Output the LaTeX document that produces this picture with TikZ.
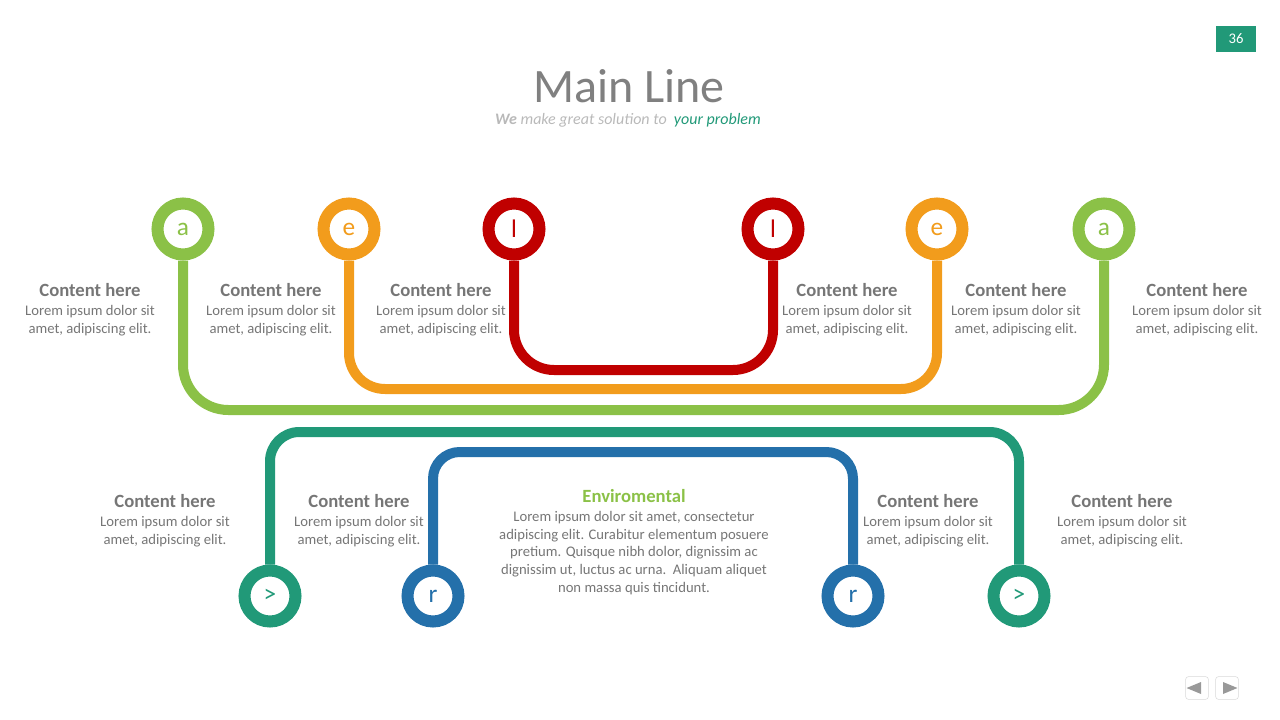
\documentclass[tikz,border=0pt]{standalone}
\usepackage{fontspec}
\setmainfont{Carlito}
\usetikzlibrary{positioning,backgrounds,shapes.geometric}
\definecolor{verde}{RGB}{139,193,71}
\definecolor{naranja}{RGB}{242,156,28}
\definecolor{rojo}{RGB}{192,0,0}
\definecolor{verdemar}{RGB}{33,153,120}
\definecolor{azul}{RGB}{36,112,170}
\definecolor{gristexto}{RGB}{118,118,118}
\definecolor{gristitulo}{RGB}{128,128,128}
\definecolor{grisclaro}{RGB}{185,185,185}
\tikzset{
  anillo/.style={
    circle,
    draw=#1,
    fill=white,
    line width=9pt,
    minimum size=38.25pt,
    inner sep=0pt,
    text=#1,
    font=\fontsize{19}{21}\selectfont
  },
  linea/.style={
    line width=7.5pt,
    draw=#1
  },
  encabezado/.style={
    inner sep=0pt,
    text=gristexto,
    font=\fontsize{14}{16}\selectfont\bfseries
  },
  cuerpo/.style={
    inner sep=0pt,
    align=center,
    text=gristexto,
    font=\fontsize{11}{13.5}\selectfont
  },
  boton/.style={
    draw=black!15,
    rounded corners=2pt,
    minimum size=17pt,
    inner sep=0pt
  }
}

\begin{document}
\begin{tikzpicture}[x=0.75pt,y=-0.75pt]
\useasboundingbox (0,0) rectangle (1280,720);
% titulo
\node[inner sep=0pt, text=gristitulo, font=\fontsize{36}{40}\selectfont] (titulo) at (629,86) {Main Line};
\node[inner sep=0pt, text=grisclaro, font=\fontsize{12}{14}\selectfont\itshape] (sub) at (628,120)
  {{\bfseries We} make great solution to \ \textcolor{verdemar}{your problem}};
\node[fill=verdemar, text=white, minimum width=30pt, minimum height=19.5pt,
  font=\fontsize{11}{13}\selectfont] (num) at (1236,39) {36};
% anillos de arriba
\node[anillo=verde] (a1) at (183,229) {a};
\node[anillo=naranja] (e1) at (349,229) {e};
\node[anillo=rojo] (l1) at (514,229) {l};
\node[anillo=rojo] (l2) at (773,229) {l};
\node[anillo=naranja] (e2) at (937,229) {e};
\node[anillo=verde] (a2) at (1104,229) {a};
% anillos de abajo
\node[anillo=verdemar] (m1) at (270,596) {>};
\node[anillo=azul] (r1) at (433,596) {r};
\node[anillo=azul] (r2) at (853,596) {r};
\node[anillo=verdemar] (m2) at (1019,596) {>};
\coordinate (nrojo) at (0,370);
\coordinate (nnaranja) at (0,389);
\coordinate (nverde) at (0,410);
\coordinate (nverdemar) at (0,432);
\coordinate (nazul) at (0,452);
\begin{scope}[on background layer]
\draw[linea=verde, rounded corners=34pt] (a1) -- (a1 |- nverde) -- (a2 |- nverde) -- (a2);
\draw[linea=naranja, rounded corners=27pt] (e1) -- (e1 |- nnaranja) -- (e2 |- nnaranja) -- (e2);
\draw[linea=rojo, rounded corners=30pt] (l1) -- (l1 |- nrojo) -- (l2 |- nrojo) -- (l2);
\draw[linea=verdemar, rounded corners=22pt] (m1) -- (m1 |- nverdemar) -- (m2 |- nverdemar) -- (m2);
\draw[linea=azul, rounded corners=20pt] (r1) -- (r1 |- nazul) -- (r2 |- nazul) -- (r2);
\end{scope}
% textos de arriba
\node[encabezado] (h1) at (90,290) {Content here};
\node[cuerpo, below=6pt of h1] (c1) {Lorem ipsum dolor sit\\amet, adipiscing elit.};
\node[encabezado] (h2) at (271,290) {Content here};
\node[cuerpo, below=6pt of h2] (c2) {Lorem ipsum dolor sit\\amet, adipiscing elit.};
\node[encabezado] (h3) at (441,290) {Content here};
\node[cuerpo, below=6pt of h3] (c3) {Lorem ipsum dolor sit\\amet, adipiscing elit.};
\node[encabezado] (h4) at (847,290) {Content here};
\node[cuerpo, below=6pt of h4] (c4) {Lorem ipsum dolor sit\\amet, adipiscing elit.};
\node[encabezado] (h5) at (1016,290) {Content here};
\node[cuerpo, below=6pt of h5] (c5) {Lorem ipsum dolor sit\\amet, adipiscing elit.};
\node[encabezado] (h6) at (1197,290) {Content here};
\node[cuerpo, below=6pt of h6] (c6) {Lorem ipsum dolor sit\\amet, adipiscing elit.};
% textos de abajo
\node[encabezado] (h7) at (165,501) {Content here};
\node[cuerpo, below=6pt of h7] (c7) {Lorem ipsum dolor sit\\amet, adipiscing elit.};
\node[encabezado] (h8) at (359,501) {Content here};
\node[cuerpo, below=6pt of h8] (c8) {Lorem ipsum dolor sit\\amet, adipiscing elit.};
\node[encabezado] (h9) at (928,501) {Content here};
\node[cuerpo, below=6pt of h9] (c9) {Lorem ipsum dolor sit\\amet, adipiscing elit.};
\node[encabezado] (h10) at (1122,501) {Content here};
\node[cuerpo, below=6pt of h10] (c10) {Lorem ipsum dolor sit\\amet, adipiscing elit.};
% centro
\node[encabezado, text=verde] (env) at (634,496) {Enviromental};
\node[cuerpo, below=6pt of env, font=\fontsize{11}{13.3}\selectfont] (centro) {Lorem ipsum dolor sit amet, consectetur\\
  adipiscing elit. Curabitur elementum posuere\\pretium. Quisque nibh dolor, dignissim ac\\
  dignissim ut, luctus ac urna.\ \ Aliquam aliquet\\non massa quis tincidunt.};
% botones
\node[boton] (prev) at (1197,688) {};
\node[boton] (next) at (1227,688) {};
\node[isosceles triangle, fill=black!40, inner sep=0pt, minimum height=8pt, minimum width=9pt,
  shape border rotate=180] at (prev) {};
\node[isosceles triangle, fill=black!40, inner sep=0pt, minimum height=8pt, minimum width=9pt]
  at (next) {};
\end{tikzpicture}
\end{document}
